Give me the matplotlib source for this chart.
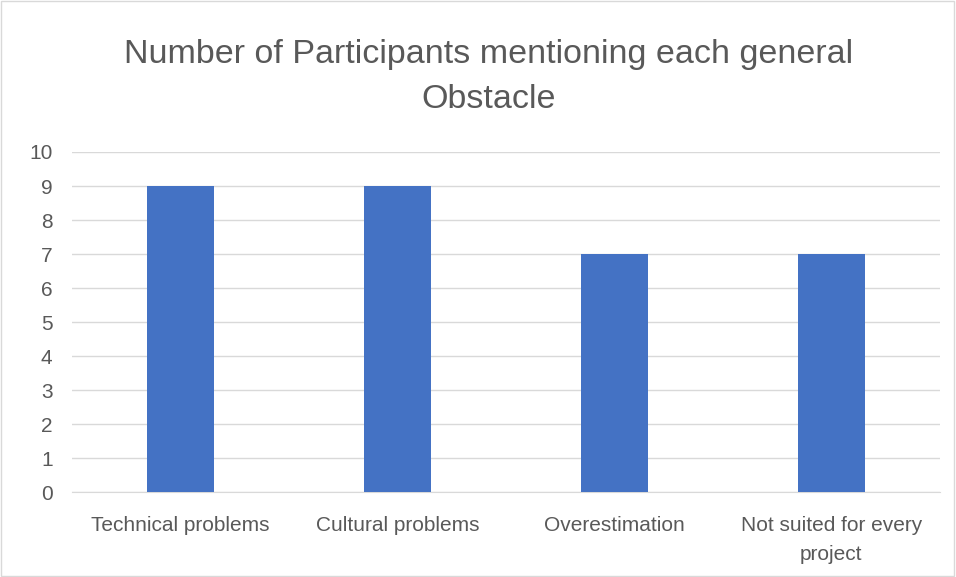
import matplotlib.pyplot as plt
from matplotlib.patches import Rectangle

categories = ["Technical problems", "Cultural problems", "Overestimation",
              "Not suited for every\nproject"]
participants = [9, 9, 7, 7]
yticks = list(range(0, 11))

plt.rcParams['font.family'] = ['Liberation Sans', 'DejaVu Sans']
grey = '#595959'

fig = plt.figure(figsize=(9.56, 5.77), dpi=100)
ax = fig.add_axes([0.0753, 0.147, 0.9077, 0.5896])

ax.bar(range(len(categories)), participants, width=0.31, color='#4472C4', zorder=3)
ax.set_xlim(-0.5, len(categories) - 0.5)
ax.set_ylim(0, 10)
ax.set_yticks(yticks)
ax.set_xticks(range(len(categories)))
ax.set_xticklabels(categories, fontsize=15, color=grey, linespacing=1.7)
ax.tick_params(axis='y', labelsize=15, labelcolor=grey, length=0, pad=14)
ax.tick_params(axis='x', length=0, pad=17)
ax.grid(axis='y', color='#D9D9D9', linewidth=1, zorder=0)
for s in ['top', 'right', 'left']:
    ax.spines[s].set_visible(False)
ax.spines['bottom'].set_color('#D9D9D9')

fig.text(0.511, 0.867, "Number of Participants mentioning each general\nObstacle",
         ha='center', va='center', fontsize=24.5, color=grey, linespacing=1.6)

fig.patches.append(Rectangle((0.001, 0.001), 0.997, 0.997, transform=fig.transFigure,
                             fill=False, edgecolor='#D9D9D9', linewidth=1))

fig.savefig('out.png', dpi=100)
